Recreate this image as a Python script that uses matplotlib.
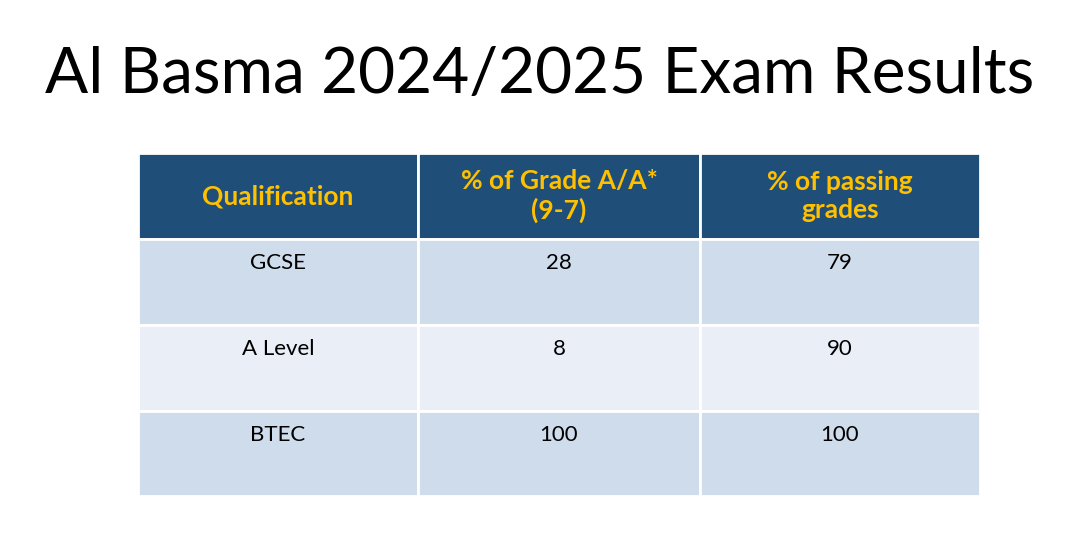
import matplotlib.pyplot as plt
from matplotlib.patches import Rectangle

plt.rcParams['font.family'] = ['Lato', 'DejaVu Sans']

title = "Al Basma 2024/2025 Exam Results"
headers = ["Qualification", "% of Grade A/A*\n(9-7)", "% of passing\ngrades"]
qualifications = ["GCSE", "A Level", "BTEC"]
top_grades = [28, 8, 100]
passing = [79, 90, 100]

# layout in pixels
col_edges = [138, 418, 700, 980]
row_edges = [153, 239, 325, 411, 496]
header_bg = "#1F4E79"
header_fg = "#FFC000"
row_bg = ["#CFDCEC", "#E9EEF7"]

fig = plt.figure(figsize=(10.8, 5.53), dpi=100)
ax = fig.add_axes([0, 0, 1, 1])
ax.set_xlim(0, 1080)
ax.set_ylim(553, 0)
ax.axis("off")

ax.text(540, 75, title, ha="center", va="center", fontsize=46, color="black")

def cell(r, c, color):
    x0, x1 = col_edges[c], col_edges[c + 1]
    y0, y1 = row_edges[r], row_edges[r + 1]
    ax.add_patch(Rectangle((x0, y0), x1 - x0, y1 - y0, facecolor=color,
                           edgecolor="white", linewidth=2))
    return (x0 + x1) / 2, y0, y1

for c, h in enumerate(headers):
    xc, y0, y1 = cell(0, c, header_bg)
    ax.text(xc, y0 + 43, h, ha="center", va="center", fontsize=19,
            fontweight="bold", color=header_fg, linespacing=1.25)

rows = list(zip(qualifications, top_grades, passing))
for r, vals in enumerate(rows):
    for c, v in enumerate(vals):
        xc, y0, y1 = cell(r + 1, c, row_bg[r % 2])
        ax.text(xc, y0 + 24, str(v), ha="center", va="center", fontsize=16,
                color="black")

fig.savefig("out.png", dpi=100)
